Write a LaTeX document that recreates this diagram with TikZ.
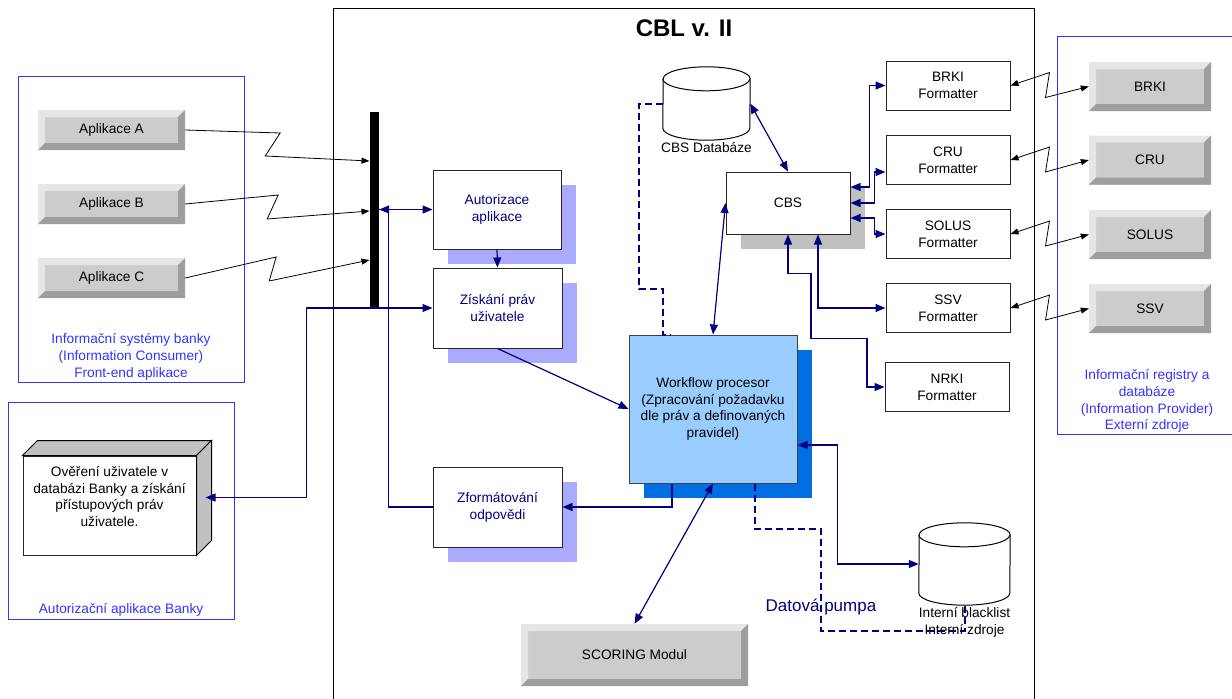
\documentclass[tikz,border=0pt]{standalone}
\usepackage{fontspec}
\setmainfont{Liberation Sans}
\usetikzlibrary{arrows.meta,calc,shadows}

\definecolor{cblnavy}{RGB}{0,0,128}
\definecolor{infoblue}{RGB}{51,51,255}
\definecolor{btnface}{RGB}{204,204,204}
\definecolor{btnlight}{RGB}{230,230,230}
\definecolor{btndark}{RGB}{158,158,158}
\definecolor{lavshade}{RGB}{170,170,255}
\definecolor{wfface}{RGB}{153,204,255}
\definecolor{wfshade}{RGB}{0,110,224}
\definecolor{boxgray}{RGB}{192,192,192}

\begin{document}
\begin{tikzpicture}[x=1pt, y=-1pt, >={Triangle[length=10pt,width=8pt]},
  every node/.style={font=\fontsize{13.7}{16.8}\selectfont},
  bevelbtn/.style={fill=btnface, inner sep=0pt, path picture={
      \coordinate (nw) at (path picture bounding box.north west);
      \coordinate (ne) at (path picture bounding box.north east);
      \coordinate (sw) at (path picture bounding box.south west);
      \coordinate (se) at (path picture bounding box.south east);
      \fill[btnlight] (nw) -- (ne) -- ([shift={(-7pt,-7pt)}]ne) -- ([shift={(7pt,-7pt)}]nw)
        -- ([shift={(7pt,7pt)}]sw) -- (sw) -- cycle;
      \fill[btndark] (se) -- (ne) -- ([shift={(-7pt,-7pt)}]ne) -- ([shift={(-7pt,7pt)}]se)
        -- ([shift={(7pt,7pt)}]sw) -- (sw) -- cycle;}},
  plainbox/.style={draw=black!85, line width=1pt, fill=white, inner sep=0pt, align=center},
  lavbox/.style={plainbox, text=cblnavy, minimum width=129, minimum height=80,
      drop shadow={shadow xshift=15pt, shadow yshift=-15pt, fill=lavshade, opacity=1}},
  fmtbox/.style={plainbox, minimum width=124, minimum height=49},
  extbtn/.style={bevelbtn, minimum width=122, minimum height=49},
  appbtn/.style={bevelbtn, minimum width=147, minimum height=40},
  dbcyl/.style={fill=white, draw, line width=1pt},
  navyline/.style={draw=cblnavy, line width=1.2pt},
  pumpline/.style={draw=cblnavy, line width=2pt, dash pattern=on 7pt off 4pt},
  zigline/.style={draw=black, line width=0.8pt, >={Triangle[length=8pt,width=6pt]}},
  infoline/.style={draw=infoblue, line width=1pt},
  infotext/.style={text=infoblue, align=center}]

  % parameters
  \def\dbry{12}     % y radius of database ends

  % page
  \fill[white] (0,0) rectangle (1232,699);
  \useasboundingbox (0,0) rectangle (1232,699);

  % cbl frame and title
  \draw[line width=1pt] (333,710) -- (333,8) -- (1034,8) -- (1034,710);
  \node[font=\fontsize{24}{28}\selectfont\bfseries] (TTL) at (684,28) {CBL v. II};

  % blue frames
  \draw[infoline] (18,76) rectangle (244,382);
  \draw[infoline] (8,402) rectangle (234,619);
  \draw[infoline] (1057,36) rectangle (1240,434);
  \node[infotext] (ICN) at (131,357) {Informační systémy banky\\(Information Consumer)\\Front-end aplikace};
  \node[infotext] (ABK) at (121,610) {Autorizační aplikace Banky};
  \node[infotext] (IPR) at (1147,401) {Informační registry a\\databáze\\(Information Provider)\\Externí zdroje};

  % applications
  \node[appbtn] (APA) at (111.5,130) {Aplikace A};
  \node[appbtn] (APB) at (111.5,204) {Aplikace B};
  \node[appbtn] (APC) at (111.5,278) {Aplikace C};

  % bank authorisation box
  \node[draw=black!85, fill=white, line width=1pt, minimum width=173, minimum height=99] (OVR) at (109.5,505.5) {};
  \draw[fill=boxgray, line width=1pt] (OVR.north west) -- ++(15,-15) -- ([shift={(15,-15)}]OVR.north east) -- (OVR.north east) -- cycle;
  \draw[fill=boxgray, line width=1pt] (OVR.north east) -- ++(15,-15) -- ([shift={(15,-15)}]OVR.south east) -- (OVR.south east) -- cycle;
  \node[align=center] (OVRT) at ([yshift=9pt]OVR.center) {Ověření uživatele v\\databázi Banky a získání\\přístupových práv\\uživatele.};
  \coordinate (OVS) at ([shift={(9,-8)}]OVR.east);

  % bus
  \node[fill=black, inner sep=0pt, minimum width=9, minimum height=196] (BAR) at (374.5,210) {};
  \coordinate (BA) at (369.5,161);
  \coordinate (BB) at (369.5,211);
  \coordinate (BC) at (369.5,260);

  % processing boxes
  \node[lavbox, minimum width=128, minimum height=79] (AUT) at (497,209.5) {Autorizace\\aplikace};
  \node[lavbox] (ZIS) at (497.5,308) {Získání práv\\uživatele};
  \node[lavbox] (ZFO) at (497.5,507) {Zformátování\\odpovědi};
  \node[plainbox, fill=wfface, draw=black!75, minimum width=168, minimum height=148,
    drop shadow={shadow xshift=15pt, shadow yshift=-15pt, fill=wfshade, opacity=1}] (WFP) at (713,409)
    {Workflow procesor\\(Zpracování požadavku\\dle práv a definovaných\\pravidel)};
  \node[plainbox, minimum width=124, minimum height=62,
    drop shadow={shadow xshift=15pt, shadow yshift=-15pt, fill=boxgray, opacity=1}] (CBS) at (788,203) {CBS};
  \node[bevelbtn, minimum width=227, minimum height=62] (SCO) at (634.5,655) {SCORING Modul};

  % databases
  \node[inner sep=0pt, minimum width=87, minimum height=73, label={[inner sep=2pt]below:CBS Databáze}] (CDB) at (706.5,103.5) {};
  \draw[dbcyl] ([yshift=-\dbry pt]CDB.north east) arc[start angle=0, end angle=-180, x radius=43.5, y radius=\dbry]
    -- ([yshift=\dbry pt]CDB.south west) arc[start angle=180, end angle=0, x radius=43.5, y radius=\dbry] -- cycle;
  \draw[line width=1pt] ([yshift=-\dbry pt]CDB.north west) arc[start angle=180, end angle=0, x radius=43.5, y radius=\dbry];
  \node[inner sep=0pt, minimum width=91, minimum height=82, label={[inner sep=2pt, align=center]below:Interní blacklist\\Interní zdroje}] (BLK) at (964.5,564) {};
  \draw[dbcyl] ([yshift=-\dbry pt]BLK.north east) arc[start angle=0, end angle=-180, x radius=45.5, y radius=\dbry]
    -- ([yshift=\dbry pt]BLK.south west) arc[start angle=180, end angle=0, x radius=45.5, y radius=\dbry] -- cycle;
  \draw[line width=1pt] ([yshift=-\dbry pt]BLK.north west) arc[start angle=180, end angle=0, x radius=45.5, y radius=\dbry];

  % formatters
  \node[fmtbox] (BRKIF) at (948,85.5) {BRKI\\Formatter};
  \node[fmtbox] (CRUF) at (948,160) {CRU\\Formatter};
  \node[fmtbox] (SOLUSF) at (948,234) {SOLUS\\Formatter};
  \node[fmtbox] (SSVF) at (948,308) {SSV\\Formatter};
  \node[fmtbox] (NRKIF) at (947,387) {NRKI\\Formatter};

  % external registries
  \node[extbtn] (BRKI) at (1150,86.5) {BRKI};
  \node[extbtn] (CRU) at (1150,160) {CRU};
  \node[extbtn] (SOLUS) at (1150,234.5) {SOLUS};
  \node[extbtn] (SSV) at (1150,308.5) {SSV};

  % links from applications
  \draw[zigline,->] (APA.east) -- ++(95,3) -- ++(-15,23) -- (BA);
  \draw[zigline,->] (APB.east) -- ++(93,-9) -- ++(-11,24) -- (BB);
  \draw[zigline,->] (APC.east) -- ++(91,-21) -- ++(-7,24) -- (BC);

  % links to registries
  \draw[zigline,<->] (BRKIF.east) -- ++(39,-13) -- ++(-4,25) -- (BRKI.west);
  \draw[zigline,<->] (CRUF.east) -- ++(39,-13) -- ++(-4,25) -- (CRU.west);
  \draw[zigline,<->] (SOLUSF.east) -- ++(39,-13) -- ++(-4,25) -- (SOLUS.west);
  \draw[zigline,<->] (SSVF.east) -- ++(39,-13) -- ++(-4,25) -- (SSV.west);

  % request flow
  \draw[navyline,->] (BAR.east |- AUT.west) -- (AUT.west);
  \draw[navyline,->] (ZFO.west) -- ++(-44,0) |- (BAR.east |- AUT.west);
  \draw[navyline,<->] (OVS) -- ++(101,0) |- (ZIS.west);
  \draw[navyline,->] (AUT.south) -- (ZIS.north);
  \draw[navyline,->] (ZIS.south) -- (WFP.west);
  \draw[navyline,->] ([xshift=-41pt]WFP.south) |- (ZFO.east);
  \draw[navyline,<->] (WFP.north) -- (CBS.west);
  \draw[navyline,<->] (CDB.east) -- (CBS.north);
  \draw[navyline,<->] (WFP.south) -- (SCO.north);
  \draw[navyline,<->] ([yshift=-36pt]WFP.east) -- ++(40,0) |- (BLK.west);

  % cbs to formatters
  \draw[navyline,<->] ([yshift=16pt]CBS.east) -- ++(19,0) |- (BRKIF.west);
  \draw[navyline,<->] (CBS.east) -- ++(24,0) |- ([yshift=-12pt]CRUF.west);
  \draw[navyline,<->] ([yshift=-15pt]CBS.east) -- ++(24,0) |- (SOLUSF.west);
  \draw[navyline,<->] ([xshift=30pt]CBS.south) |- (SSVF.west);
  \draw[navyline,<->] (CBS.south) -- ++(0,39) -- ++(23,0) -- ++(0,65) -- ++(56,0) |- (NRKIF.west);

  % data pump
  \node[text=cblnavy, font=\fontsize{17}{20}\selectfont] (DPU) at (821,607) {Datová pumpa};
  \draw[pumpline] (CDB.west) -- ++(-24,0) -- ++(0,185) -- ++(24,0) |- ([xshift=-43pt]WFP.north);
  \draw[pumpline] ([xshift=42pt]WFP.south) -- ++(0,45) -- ++(66,0) -- ++(0,102) -| (BLK.south);
\end{tikzpicture}
\end{document}
